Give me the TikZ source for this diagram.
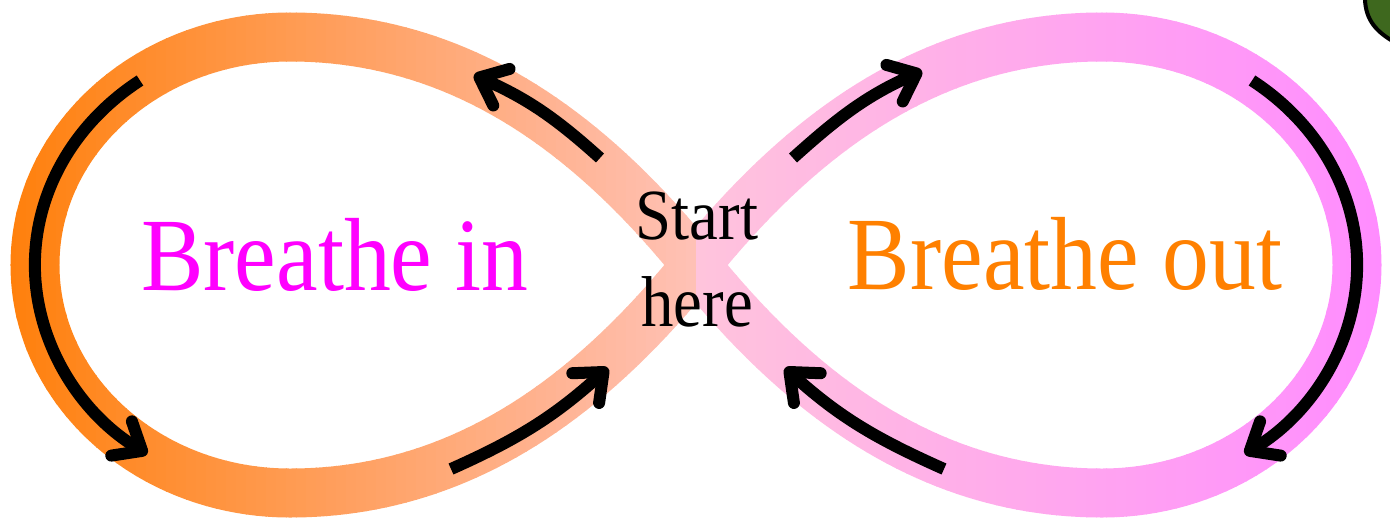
\documentclass[tikz,border=0pt]{standalone}
\usepackage{fontspec}
\setmainfont[FakeStretch=0.9]{Liberation Serif}
\usetikzlibrary{arrows.meta}

\definecolor{bandorange}{RGB}{255,128,12}
\definecolor{bandpeach}{RGB}{255,193,182}
\definecolor{bandpink}{RGB}{255,196,220}
\definecolor{bandviolet}{RGB}{255,140,255}
\definecolor{leafgreen}{RGB}{62,104,30}
\definecolor{inkmagenta}{RGB}{255,0,255}
\definecolor{inkorange}{RGB}{255,128,0}

\tikzset{
  band/.style={line width=24.5pt},
  flow/.style={line width=6pt, -{Straight Barb[length=12pt,width=20pt,round]}},
  loopword/.style={font=\fontsize{52}{57}\selectfont, anchor=base},
}

% the figure eight, centre line of the band
\newcommand{\eightpath}{(0,0) .. controls (-107,133) and (-236,228) .. (-406,228)
  .. controls (-547,228) and (-661,126) .. (-661,0)
  .. controls (-661,-126) and (-547,-228) .. (-406,-228)
  .. controls (-236,-228) and (-107,-133) .. (0,0)
  .. controls (107,133) and (236,228) .. (406,228)
  .. controls (547,228) and (661,126) .. (661,0)
  .. controls (661,-126) and (547,-228) .. (406,-228)
  .. controls (236,-228) and (107,-133) .. (0,0) -- cycle}

\begin{document}
\begin{tikzpicture}[x=0.5pt,y=0.5pt]
    \useasboundingbox (-696,-255) rectangle (694,265);

    % band, coloured strip by strip
    \foreach \x in {-700,-690,...,-10}{
        \pgfmathsetmacro{\mix}{min(100,max(0,-(\x+5)/6.86))}
        \begin{scope}
            \clip (\x,-260) rectangle (\x+11,270);
            \draw[band, draw=bandorange!\mix!bandpeach] \eightpath;
        \end{scope}
    }
    \foreach \x in {0,10,...,690}{
        \pgfmathsetmacro{\mix}{min(100,max(0,(\x+5)/6.9))}
        \begin{scope}
            \clip (\x,-260) rectangle (\x+11,270);
            \draw[band, draw=bandviolet!\mix!bandpink] \eightpath;
        \end{scope}
    }

    \node[loopword, text=inkmagenta] (in) at (-361,-25) {Breathe in};
    \node[loopword, text=inkorange] (out) at (369,-24) {Breathe out};
    \node[align=center, font=\fontsize{36}{43.5}\selectfont] (start) at (1,5) {Start\\here};

    \coordinate (inA) at (-96,107);
    \coordinate (inB) at (-222,190);
    \coordinate (inC) at (-556,184.5);
    \coordinate (inD) at (-245,-204);
    \coordinate (inE) at (-88,-103);
    \coordinate (outA) at (97,107);
    \coordinate (outB) at (226,194);
    \coordinate (outC) at (556,184.5);
    \coordinate (outD) at (248,-204);
    \coordinate (outE) at (89,-103);

    \draw[flow] (inA) to[out=138,in=-24] (inB);
    \draw[flow] (inC) arc[start angle=126,end angle=236,x radius=255,y radius=228];
    \draw[flow] (inD) to[out=24,in=222] (inE);
    \draw[flow] (outA) to[out=42,in=204] (outB);
    \draw[flow] (outC) arc[start angle=54,end angle=-56,x radius=255,y radius=228];
    \draw[flow] (outD) to[out=156,in=-42] (outE);

    % corner of the leaf, top right
    \begin{scope}
        \clip (-696,-255) rectangle (694,265);
        \draw[line width=2pt, fill=leafgreen] (668,280) -- (669,265)
            .. controls (670,245) and (680,233) .. (700,222) -- (720,222) -- (720,280) -- cycle;
    \end{scope}
\end{tikzpicture}
\end{document}
